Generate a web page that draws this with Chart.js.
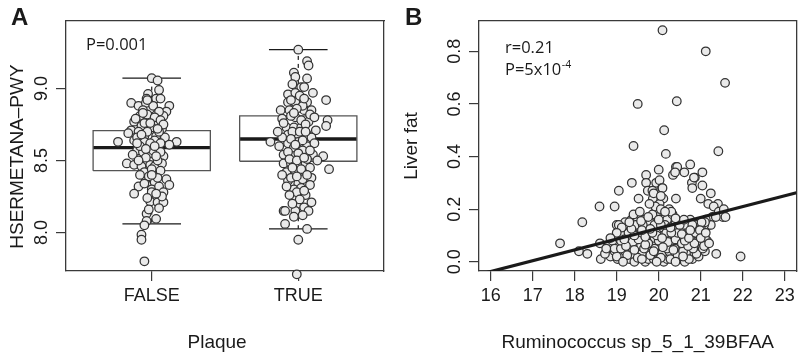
<!DOCTYPE html>
<html><head><meta charset="utf-8">
<script src="https://cdn.jsdelivr.net/npm/chart.js@4/dist/chart.umd.min.js"></script>
<style>
html,body{margin:0;padding:0;background:#fff;}
#wrap{position:relative;width:802px;height:354px;overflow:hidden;}
canvas{position:absolute;top:0;}
#ca{left:0;} #cb{left:400px;}
</style></head><body>
<div id="wrap">
<canvas id="ca" width="400" height="354"></canvas>
<canvas id="cb" width="402" height="354"></canvas>
</div>
<script>
// ---------- Panel A data ----------
const plaqueCategories = ['FALSE', 'TRUE'];
const whiskerLow  = [8.060, 8.026];
const quartile1   = [8.430, 8.495];
const medianVal   = [8.590, 8.650];
const quartile3   = [8.708, 8.810];
const whiskerHigh = [9.072, 9.270];
const yTicksA = [8.0, 8.5, 9.0];

const plaqueFalsePoints = [
[1.00,9.072],[1.04,9.056],[1.05,8.99],[0.975,8.963],[1.03,8.93],[0.965,8.93],[0.86,8.90],[0.91,8.88],[1.12,8.88],[0.99,8.86],
[1.10,8.84],[1.08,8.81],[0.92,8.81],[0.98,8.79],[0.88,8.77],[1.02,8.75],[0.93,8.74],[1.07,8.72],[0.86,8.71],[0.91,8.70],
[0.84,8.69],[0.95,8.67],[1.03,8.67],[1.09,8.66],[0.77,8.63],[1.17,8.63],[0.88,8.64],[0.95,8.63],[1.02,8.64],[1.12,8.61],
[0.975,8.59],[1.04,8.58],[0.90,8.57],[0.94,8.56],[1.00,8.55],[1.08,8.53],[0.83,8.48],[0.88,8.47],[0.93,8.46],[0.99,8.47],
[1.02,8.46],[1.07,8.48],[0.95,8.42],[1.01,8.41],[1.10,8.37],[0.96,8.37],[1.02,8.35],[1.12,8.33],[0.91,8.32],[1.00,8.30],
[1.05,8.32],[1.08,8.28],[0.88,8.27],[1.00,8.28],[0.99,8.215],[1.04,8.21],[1.08,8.21],[0.965,8.13],[1.03,8.095],[0.965,8.08],
[0.95,8.05],[0.93,7.985],[0.93,7.95],[0.95,7.80],
[0.96,8.90],[1.01,8.88],[0.94,8.85],[1.05,8.84],[0.97,8.82],[1.02,8.80],[0.89,8.79],[1.06,8.78],[0.95,8.76],[1.00,8.73],
[1.05,8.70],[0.97,8.70],[0.90,8.66],[1.06,8.62],[0.99,8.62],[0.92,8.60],[1.01,8.57],[1.06,8.56],[0.87,8.54],[0.96,8.52],
[1.04,8.50],[0.91,8.50],[1.00,8.44],[1.06,8.43],[0.92,8.40],[0.98,8.39],[1.04,8.38],[0.95,8.34],[1.07,8.25],[0.97,8.24],
[1.03,8.27],[1.05,8.17],[0.98,8.16],[1.02,8.60],[0.93,8.68],[1.08,8.75],[0.97,8.92],[1.06,8.93],[0.94,8.83],
[0.99,8.76],[1.04,8.72],[0.96,8.58],[1.03,8.53],[0.90,8.62],[1.00,8.40]
];
const plaqueTruePoints = [
[2.00,9.27],[2.06,9.19],[2.07,9.16],[1.97,9.11],[1.98,9.08],[2.06,9.07],[1.96,9.03],[2.02,9.01],[2.04,9.01],[1.93,8.96],
[1.98,8.97],[2.10,8.97],[2.19,8.92],[1.93,8.905],[1.98,8.905],[2.06,8.905],[1.88,8.85],[1.94,8.85],[2.04,8.85],[2.09,8.85],
[1.89,8.79],[1.98,8.80],[2.07,8.77],[2.20,8.78],[2.19,8.74],[1.92,8.73],[1.97,8.73],[2.02,8.73],[2.12,8.71],[1.93,8.68],
[2.00,8.68],[2.06,8.68],[1.81,8.63],[1.87,8.60],[1.93,8.62],[2.00,8.63],[2.06,8.60],[2.03,8.57],[1.90,8.54],[1.96,8.54],
[2.10,8.54],[2.17,8.53],[2.21,8.44],[1.90,8.48],[1.95,8.48],[2.01,8.48],[2.05,8.48],[1.92,8.42],[1.98,8.42],[2.03,8.42],
[1.93,8.36],[2.00,8.34],[2.09,8.38],[2.03,8.37],[1.97,8.30],[2.02,8.31],[1.98,8.245],[2.05,8.26],[2.00,8.20],[2.04,8.175],
[1.90,8.15],[1.91,8.15],[1.98,8.15],[2.07,8.15],[1.91,8.06],[2.06,8.025],[2.00,7.95],[1.99,7.71],
[2.01,8.95],[1.95,8.92],[2.03,8.88],[1.99,8.86],[2.08,8.82],[1.95,8.81],[2.02,8.78],[2.11,8.80],[1.90,8.76],[2.05,8.75],
[1.96,8.70],[2.09,8.66],[1.95,8.65],[2.03,8.64],[1.89,8.66],[2.11,8.62],[1.97,8.59],[2.08,8.57],[1.93,8.56],[2.00,8.55],
[2.06,8.51],[1.94,8.51],[1.99,8.50],[2.08,8.45],[1.96,8.45],[2.02,8.44],[1.89,8.40],[2.06,8.40],[1.95,8.38],[2.08,8.33],
[1.92,8.32],[1.99,8.28],[2.04,8.29],[1.94,8.26],[2.01,8.23],[1.96,8.20],[2.09,8.21],[2.03,8.12],[1.97,8.11],[2.01,8.70],
[2.13,8.50],[1.86,8.70],[2.04,8.93],[1.97,8.83],[2.05,8.70],[1.98,8.61],[2.04,8.52],[1.99,8.39]
];

// ---------- Panel B data ----------
const xTicksB = [16, 17, 18, 19, 20, 21, 22, 23];
const yTicksB = [0.0, 0.2, 0.4, 0.6, 0.8];
const fitLineX = [15.72, 23.28];
const fitLineY = [-0.0487, 0.2625];
const liverPoints = [
[20.09,0.88],[21.12,0.80],[21.58,0.68],[19.50,0.60],[20.43,0.61],[20.13,0.50],[19.40,0.44],[20.17,0.41],[21.42,0.42],
[17.65,0.07],[18.18,0.15],[18.59,0.21],[18.95,0.21],[19.05,0.27],[19.36,0.30],[19.52,0.24],[19.70,0.33],[19.70,0.30],[20.00,0.35],
[19.74,0.27],[19.86,0.24],[19.94,0.30],[20.02,0.31],[20.08,0.28],[20.11,0.24],[19.94,0.20],[20.02,0.22],[20.41,0.36],[20.34,0.33],
[20.41,0.24],[20.61,0.34],[20.75,0.37],[20.79,0.30],[20.80,0.28],[20.86,0.32],[21.04,0.34],[21.04,0.29],[21.00,0.24],[21.24,0.26],
[21.18,0.22],[21.41,0.22],[21.31,0.21],[21.43,0.19],[21.53,0.17],[21.28,0.17],[21.20,0.14],[21.95,0.02],[21.37,0.03],
[20.44,0.36],[20.39,0.34],[20.84,0.32],[20.09,0.28],[19.85,0.27],[21.55,0.20],[21.59,0.17],[21.36,0.17],[21.24,0.14],[21.12,0.16],
[20.88,0.14],[21.08,0.14],
[18.62,0.01],[18.85,0.02],[19.02,0.01],[19.12,0.02],[19.30,0.01],[19.42,0.00],[19.55,0.02],[19.68,0.00],[19.75,0.01],[19.88,0.01],
[20.00,0.02],[20.12,0.00],[20.20,0.01],[20.33,0.02],[20.50,0.01],[20.62,0.00],[20.68,0.02],[20.80,0.01],[20.95,0.02],
[18.10,0.04],[18.30,0.03],[18.72,0.03],[18.95,0.04],[19.08,0.03],[19.20,0.04],[19.35,0.03],[19.50,0.04],[19.60,0.03],[19.72,0.05],
[19.85,0.03],[19.97,0.04],[20.08,0.03],[20.25,0.04],[20.40,0.03],[20.52,0.05],[20.70,0.04],[20.85,0.03],[21.00,0.05],[21.10,0.04],
[18.60,0.07],[18.80,0.06],[19.00,0.06],[19.15,0.07],[19.28,0.06],[19.45,0.07],[19.58,0.06],[19.70,0.08],[19.82,0.06],[19.93,0.07],
[20.05,0.06],[20.15,0.08],[20.30,0.06],[20.45,0.07],[20.60,0.06],[20.75,0.08],[20.90,0.06],[21.05,0.07],[21.15,0.08],
[18.90,0.08],[19.05,0.09],[19.20,0.10],[19.32,0.09],[19.48,0.10],[19.62,0.09],[19.78,0.10],[19.90,0.09],[20.02,0.11],[20.12,0.10],
[20.25,0.09],[20.38,0.10],[20.50,0.09],[20.65,0.10],[20.80,0.09],[20.95,0.10],[21.10,0.09],
[19.00,0.14],[19.15,0.12],[19.25,0.13],[19.40,0.12],[19.55,0.13],[19.70,0.12],[19.85,0.13],[19.95,0.12],[20.10,0.13],[20.22,0.12],
[20.35,0.13],[20.55,0.12],[20.70,0.13],[20.85,0.12],[21.00,0.13],[21.10,0.15],
[19.20,0.15],[19.35,0.16],[19.50,0.17],[19.48,0.15],[19.65,0.16],[19.80,0.15],[19.95,0.17],[20.08,0.16],[20.20,0.16],[20.33,0.18],
[20.45,0.15],[20.75,0.16],[20.90,0.14],
[19.00,0.02],[19.25,0.025],[19.50,0.015],[19.80,0.025],[20.05,0.015],[20.28,0.01],[20.45,0.025],[20.72,0.01],[20.90,0.03],
[18.95,0.05],[19.10,0.05],[19.38,0.05],[19.65,0.05],[19.90,0.05],[20.20,0.05],[20.38,0.05],[20.58,0.04],[20.82,0.05],[21.05,0.05],
[19.10,0.08],[19.38,0.075],[19.52,0.085],[19.75,0.07],[20.00,0.08],[20.22,0.075],[20.40,0.085],[20.55,0.07],[20.70,0.06],[20.95,0.08],[21.08,0.06],
[19.10,0.11],[19.28,0.11],[19.60,0.11],[19.72,0.10],[19.95,0.10],[20.18,0.11],[20.45,0.11],[20.60,0.10],[20.78,0.11],[20.92,0.12],
[19.05,0.14],[19.30,0.14],[19.45,0.14],[19.62,0.14],[19.90,0.14],[20.15,0.14],[20.40,0.15],[20.62,0.14],[20.80,0.14],[21.02,0.15],
[19.40,0.18],[19.55,0.19],[19.85,0.18],[19.92,0.21],[20.05,0.20],[20.25,0.20],[20.30,0.19],[20.15,0.19],[19.88,0.26],[19.78,0.22],[20.05,0.25],
[19.15,0.00],[19.60,0.01],[19.95,0.00],[20.40,0.00],[20.58,0.02],
[19.22,0.06],[19.42,0.045],[19.68,0.065],[19.88,0.04],[20.10,0.055],[20.35,0.045],[20.62,0.08],[20.85,0.07],
[19.18,0.085],[19.42,0.10],[19.68,0.095],[19.85,0.11],[20.08,0.09],[20.30,0.11],[20.55,0.105],[20.72,0.09],[20.88,0.11],
[19.12,0.13],[19.35,0.125],[19.60,0.12],[19.80,0.125],[20.05,0.14],[20.28,0.13],[20.50,0.14],[20.75,0.12],[20.98,0.12],
[19.30,0.15],[19.58,0.155],[19.75,0.17],[20.00,0.16],[20.40,0.165],[20.60,0.16],
[19.00,0.11],[18.85,0.09],[18.75,0.05],[21.00,0.09],[21.12,0.11],[21.20,0.07]
];

// ---------- styling ----------
const FONT = "'Liberation Sans', Arial, Helvetica, sans-serif";
const AXC = '#3a3a3a';
const TXT = '#1a1a1a';
const PT_FILL = '#eaeaea';
const PT_EDGE = '#333333';
const PT_R = 4.3;
const PT_BW = 1.25;

const textPlugin = {
  id: 'panelText',
  afterDraw(chart, args, opts) {
    const ctx = chart.ctx;
    ctx.save();
    (opts.items || []).forEach(it => {
      ctx.font = it.font;
      ctx.fillStyle = TXT;
      ctx.textAlign = 'left';
      ctx.textBaseline = 'alphabetic';
      ctx.fillText(it.text, it.x, it.y);
      if (it.sup) {
        const w = ctx.measureText(it.text).width;
        ctx.font = it.supFont;
        ctx.fillText(it.sup, it.x + w + 0.5, it.y - 7);
      }
    });
    ctx.restore();
  }
};

function seg(points, extra) {
  return Object.assign({
    type: 'scatter', showLine: true, pointRadius: 0, borderColor: '#1a1a1a',
    borderWidth: 1.2, fill: false, order: 2, clip: false,
    data: points.map(p => ({x: p[0], y: p[1]}))
  }, extra || {});
}

function frameScales() {
  return {
    xTop: { type: 'linear', position: 'top', display: true,
      ticks: {display: false}, grid: {display: false, drawTicks: false},
      border: {display: true, color: AXC, width: 1.3},
      afterFit: s => { s.height = 0; } },
    yRight: { type: 'linear', position: 'right', display: true,
      ticks: {display: false}, grid: {display: false, drawTicks: false},
      border: {display: true, color: AXC, width: 1.3},
      afterFit: s => { s.width = 0; } }
  };
}

// ---------- Panel A ----------
const dsA = [];
plaqueCategories.forEach((c, i) => {
  const xc = i + 1, hw = 0.4, cw = 0.2;
  dsA.push(seg([[xc - hw, quartile1[i]], [xc + hw, quartile1[i]], [xc + hw, quartile3[i]], [xc - hw, quartile3[i]], [xc - hw, quartile1[i]]], {borderColor: '#555', borderWidth: 1.3}));
  dsA.push(seg([[xc - hw, medianVal[i]], [xc + hw, medianVal[i]]], {borderWidth: 3.4, borderColor: '#1a1a1a'}));
  dsA.push(seg([[xc, quartile3[i]], [xc, whiskerHigh[i]]], {borderDash: [4, 4]}));
  dsA.push(seg([[xc, quartile1[i]], [xc, whiskerLow[i]]], {borderDash: [4, 4]}));
  dsA.push(seg([[xc - cw, whiskerHigh[i]], [xc + cw, whiskerHigh[i]]]));
  dsA.push(seg([[xc - cw, whiskerLow[i]], [xc + cw, whiskerLow[i]]]));
});
[plaqueFalsePoints, plaqueTruePoints].forEach(arr => {
  dsA.push({ type: 'scatter', order: 0, clip: false,
    data: arr.map(p => ({x: p[0], y: p[1]})),
    pointRadius: PT_R, pointBackgroundColor: PT_FILL, pointBorderColor: PT_EDGE, pointBorderWidth: PT_BW });
});

new Chart(document.getElementById('ca'), {
  type: 'scatter',
  data: { datasets: dsA },
  plugins: [textPlugin],
  options: {
    responsive: false, animation: false, events: [],
    layout: { padding: {left: 0, top: 21, right: 16, bottom: 0} },
    plugins: { legend: {display: false}, tooltip: {enabled: false},
      panelText: { items: [
        {text: 'A', x: 11, y: 25, font: "bold 24px " + FONT},
        {text: 'P=0.001', x: 86, y: 50, font: "16.5px 'Open Sans', sans-serif"}
      ] } },
    scales: Object.assign({
      x: { type: 'linear', position: 'bottom', min: 0.415, max: 2.585,
        afterBuildTicks: s => { s.ticks = plaqueCategories.map((c, i) => ({value: i + 1})); },
        ticks: { callback: (v, i) => plaqueCategories[i], font: {family: FONT, size: 18}, color: TXT, padding: 4, maxRotation: 0 },
        grid: { display: true, drawOnChartArea: false, drawTicks: true, tickLength: 10, color: AXC, lineWidth: 1.2 },
        border: { display: true, color: AXC, width: 1.3 },
        title: { display: true, text: 'Plaque   ', font: {family: FONT, size: 19}, color: TXT, padding: 0 },
        afterFit: s => { s.height = 83; } },
      y: { type: 'linear', position: 'left', min: 7.733, max: 9.469,
        afterBuildTicks: s => { s.ticks = yTicksA.map(v => ({value: v})); },
        ticks: { callback: v => v.toFixed(1), font: {family: FONT, size: 18}, color: TXT, padding: 1, minRotation: 90, maxRotation: 90, crossAlign: 'center' },
        grid: { display: true, drawOnChartArea: false, drawTicks: true, tickLength: 10, color: AXC, lineWidth: 1.2 },
        border: { display: true, color: AXC, width: 1.3 },
        title: { display: true, text: 'HSERMETANA\u2013PWY    ', font: {family: FONT, size: 19}, color: TXT, padding: {top: 6, bottom: 0} },
        afterFit: s => { s.width = 66; } }
    }, frameScales())
  }
});

// ---------- Panel B ----------
const dsB = [
  { type: 'scatter', order: 0, clip: 0,
    data: liverPoints.map(p => ({x: p[0], y: p[1]})),
    pointRadius: PT_R, pointBackgroundColor: PT_FILL, pointBorderColor: PT_EDGE, pointBorderWidth: PT_BW },
  { type: 'scatter', order: -1, showLine: true, pointRadius: 0, clip: 0,
    borderColor: '#1a1a1a', borderWidth: 3.2,
    data: fitLineX.map((x, i) => ({x: x, y: fitLineY[i]})) }
];

new Chart(document.getElementById('cb'), {
  type: 'scatter',
  data: { datasets: dsB },
  plugins: [textPlugin],
  options: {
    responsive: false, animation: false, events: [],
    layout: { padding: {left: 0, top: 21, right: 4, bottom: 0} },
    plugins: { legend: {display: false}, tooltip: {enabled: false},
      panelText: { items: [
        {text: 'B', x: 5, y: 25, font: "bold 24px " + FONT},
        {text: 'r=0.21', x: 105, y: 53, font: "16.5px 'Open Sans', sans-serif"},
        {text: 'P=5x10', x: 105, y: 75, font: "16.5px 'Open Sans', sans-serif", sup: '-4', supFont: "10.5px 'Open Sans', sans-serif"}
      ] } },
    scales: Object.assign({
      x: { type: 'linear', position: 'bottom', min: 15.72, max: 23.28,
        afterBuildTicks: s => { s.ticks = xTicksB.map(v => ({value: v})); },
        ticks: { callback: v => String(v), font: {family: FONT, size: 18}, color: TXT, padding: 4, maxRotation: 0 },
        grid: { display: true, drawOnChartArea: false, drawTicks: true, tickLength: 10, color: AXC, lineWidth: 1.2 },
        border: { display: true, color: AXC, width: 1.3 },
        title: { display: true, text: 'Ruminococcus sp_5_1_39BFAA', font: {family: FONT, size: 19}, color: TXT, padding: 0 },
        afterFit: s => { s.height = 83; } },
      y: { type: 'linear', position: 'left', min: -0.0352, max: 0.9152,
        afterBuildTicks: s => { s.ticks = yTicksB.map(v => ({value: v})); },
        ticks: { callback: v => v.toFixed(1), font: {family: FONT, size: 18}, color: TXT, padding: 1, minRotation: 90, maxRotation: 90, crossAlign: 'center' },
        grid: { display: true, drawOnChartArea: false, drawTicks: true, tickLength: 10, color: AXC, lineWidth: 1.2 },
        border: { display: true, color: AXC, width: 1.3 },
        title: { display: true, text: 'Liver fat', font: {family: FONT, size: 19}, color: TXT, padding: {top: 0, bottom: 0} },
        afterFit: s => { s.width = 79; } }
    }, frameScales())
  }
});
</script>
</body></html>
